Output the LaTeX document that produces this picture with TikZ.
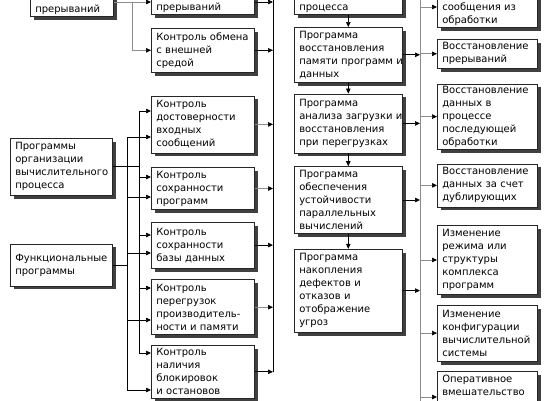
\documentclass[tikz,border=0pt]{standalone}
\usepackage{fontspec}
\setmainfont{DejaVu Sans}
\usetikzlibrary{arrows.meta,positioning,shadows}
\tikzset{
  pbox/.style={
    rectangle, draw=black!85, fill=white, line width=0.6pt,
    align=left, inner xsep=5pt, inner ysep=2pt,
    font=\fontsize{10}{13}\selectfont,
    drop shadow={shadow xshift=3.5pt,shadow yshift=-3.5pt,fill=black!75,opacity=1}
  },
  pcolA/.style={pbox,text width=73pt},
  pcolB/.style={pbox,text width=92pt},
  pcolC/.style={pbox,text width=93pt},
  pcolD/.style={pbox,text width=98pt},
  pcolE/.style={pbox,text width=90pt},
  pedge/.style={-{Triangle[length=5pt,width=4.5pt]},line width=0.7pt},
  pedgegray/.style={line width=0.7pt,draw=black!45,-{Triangle[length=5pt,width=4.5pt,color=black]}},
  pline/.style={line width=0.7pt},
  plinegray/.style={pline,draw=black!45}
}

\begin{document}
\begin{tikzpicture}[x=1pt,y=1pt]
  \useasboundingbox (0,0) rectangle (549,-400);
  % column 1
  \node[pcolA,anchor=south west] (c1a) at (30,-17) {\strut\\прерываний};
  \node[pcolB,anchor=north west,minimum height=57pt] (c1b) at (10,-138) {Программы\\организации\\вычислительного\\процесса};
  \node[pcolB,below=48pt of c1b,minimum height=42pt] (c1c) {Функциональные\\программы};
  % column 2
  \node[pcolC,anchor=south west] (c2a) at (151,-15) {\strut\\прерываний};
  \node[pcolC,below=13pt of c2a,minimum height=44pt] (c2b) {Контроль обмена\\с внешней\\средой};
  \node[pcolC,below=23pt of c2b,minimum height=57pt] (c2c) {Контроль\\достоверности\\входных\\сообщений};
  \node[pcolC,below=14pt of c2c,minimum height=42pt] (c2d) {Контроль\\сохранности\\программ};
  \node[pcolC,below=12pt of c2d,minimum height=46pt] (c2e) {Контроль\\сохранности\\базы данных};
  \node[pcolC,below=11pt of c2e,minimum height=55pt] (c2f) {Контроль\\перегрузок\\производитель-\\ности и памяти};
  \node[pcolC,below=10pt of c2f,minimum height=53pt] (c2g) {Контроль\\наличия\\блокировок\\и остановов};
  % column 3
  \node[pcolD,anchor=south west] (c3a) at (294,-15) {\strut\\процесса};
  \node[pcolD,below=12pt of c3a,minimum height=55pt] (c3b) {Программа\\восстановления\\\mbox{памяти программ и}\\данных};
  \node[pcolD,below=11pt of c3b,minimum height=59pt] (c3c) {Программа\\\mbox{анализа загрузки и}\\восстановления\\при перегрузках};
  \node[pcolD,below=13pt of c3c,minimum height=67pt] (c3d) {Программа\\обеспечения\\устойчивости\\параллельных\\вычислений};
  \node[pcolD,below=15pt of c3d,minimum height=83pt] (c3e) {Программа\\накопления\\дефектов и\\отказов и\\отображение\\угроз};
  % column 4
  \node[pcolE,anchor=south west] (c4a) at (437,-28) {\strut\\сообщения из\\обработки};
  \node[pcolE,below=11pt of c4a,minimum height=29pt] (c4b) {Восстановление\\прерываний};
  \node[pcolE,below=15pt of c4b,minimum height=65pt] (c4c) {Восстановление\\данных в\\процессе\\последующей\\обработки};
  \node[pcolE,below=14pt of c4c,minimum height=43pt] (c4d) {Восстановление\\данных за счет\\дублирующих};
  \node[pcolE,below=18pt of c4d,minimum height=69pt] (c4e) {Изменение\\режима или\\структуры\\комплекса\\программ};
  \node[pcolE,below=10pt of c4e,minimum height=56pt] (c4f) {Изменение\\конфигурации\\вычислительной\\системы};
  \node[pcolE,below=10pt of c4f,minimum height=45pt] (c4g) {Оперативное\\вмешательство\\\strut};

  % column 1 -> column 2
  \coordinate (busA) at (132,-2);
  \coordinate (bus1) at (127,0);
  \coordinate (bus2) at (139,0);
  \draw[plinegray] ([yshift=15pt]c1a.south east) -- (busA);
  \draw[pedgegray] (busA) -- (busA -| c2a.west);
  \draw[pedgegray] (busA) |- (c2b.west);
  \draw[pline] (c1b.east) -- (c1b.east -| bus2);
  \draw[pline] (c1c.east) -- (c1c.east -| bus1);
  \draw[pline] (bus2 |- 0,-111) -- (bus2 |- 0,-353);
  \draw[pline] (bus1 |- 0,-137) -- (bus1 |- 0,-390);
  \foreach \n/\ya/\yb in {c2c/111/137,c2d/177/197,c2e/235/253,c2f/288/320,c2g/353/390}{
    \draw[pedge] (bus2 |- 0,-\ya) -- (\n.west |- 0,-\ya);
    \draw[pedge] (bus1 |- 0,-\yb) -- (\n.west |- 0,-\yb);
  }

  % column 2 -> column 3
  \coordinate (bus3) at (273,0);
  \draw[pline] (bus3 |- 0,5) -- (bus3 |- c2g.east);
  \draw[pedge] ([yshift=13pt]c2a.south east) -- (bus3 |- 0,-2);
  \foreach \n in {c2b,c2e,c2g}
    \draw[pedge] (\n.east) -- (\n.east -| bus3);
  \foreach \n in {c2c,c2d,c2f}
    \draw[pedgegray] (\n.east) -- (\n.east -| bus3);
  \foreach \u/\v in {c3a/c3b,c3b/c3c,c3c/c3d,c3d/c3e}
    \draw[pedge] (\u.south) -- (\v.north);

  % column 3 -> column 4
  \coordinate (bus4) at (420,0);
  \draw[plinegray] (bus4 |- 0,5) -- (bus4 |- 0,-405);
  \foreach \n in {c3b,c3c,c3d,c3e}
    \draw[pedge] (\n.east) -- (\n.east -| bus4);
  \draw[pedgegray] (bus4 |- 0,-7) -- (c4a.west |- 0,-7);
  \foreach \n in {c4b,c4c,c4d,c4e,c4f}
    \draw[pedgegray] (\n.west -| bus4) -- (\n.west);
  \draw[pedgegray] (bus4 |- 0,-397) -- (c4g.west |- 0,-397);
\end{tikzpicture}
\end{document}
